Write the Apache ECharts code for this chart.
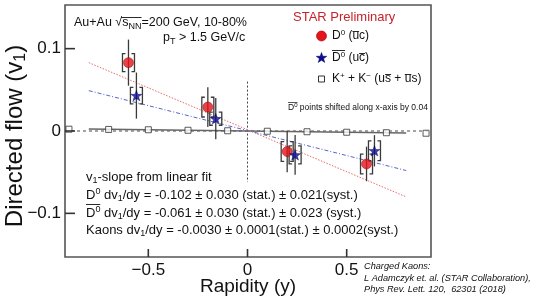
<!DOCTYPE html>
<html><head><meta charset="utf-8">
<script src="https://cdn.jsdelivr.net/npm/echarts@6/dist/echarts.min.js"></script>
<style>html,body{margin:0;padding:0;background:#fff}#c{width:537px;height:303px}</style>
</head><body><div id="c"></div>
<script>
// ---- data ----
const d0X = [-0.6, -0.2, 0.2, 0.6];
const d0Y = [0.083, 0.029, -0.025, -0.040];
const d0Stat = [0.028, 0.024, 0.025, 0.021];
const d0Syst = [0.011, 0.012, 0.012, 0.012];
const d0barX = [-0.56, -0.16, 0.24, 0.64];
const d0barY = [0.043, 0.015, -0.029, -0.024];
const d0barStat = [0.028, 0.025, 0.024, 0.019];
const d0barSyst = [0.010, 0.008, 0.011, 0.012];
const kaonX = [-0.9, -0.7, -0.5, -0.3, -0.1, 0.1, 0.3, 0.5, 0.7, 0.9];
const kaonY = [0.0022, 0.0019, 0.0015, 0.0009, 0.0003, -0.0003, -0.0009, -0.0015, -0.0021, -0.0027];
const d0FitX = [-0.8, 0.8];
const d0FitY = [0.083, -0.080];
const d0barFitX = [-0.8, 0.8];
const d0barFitY = [0.049, -0.048];
const kaonFitX = [-0.8, 0.8];
const kaonFitY = [0.0024, -0.0024];
const zeroLineX = [-0.92, 0.92];
const zeroLineY = [0, 0];
const midLineX = [0, 0];
const midLineY = [0.06, -0.062];
const xTicks = [-0.5, 0, 0.5];
const yTicks = [-0.1, 0, 0.1];
const xRange = [-0.92, 0.925];
const yRange = [-0.153, 0.153];

const FONT = '"Liberation Sans", Arial, sans-serif';
const zip = (a, b) => a.map((v, i) => [v, b[i]]);
const fmt = v => (v < 0 ? '\u2212' : '') + String(Math.abs(v));

function errRender(stat, syst) {
  return function (params, api) {
    const i = params.dataIndex;
    const x = api.value(0), y = api.value(1);
    const p = api.coord([x, y]);
    const t = api.coord([x, y + stat[i]]), b = api.coord([x, y - stat[i]]);
    const st = api.coord([x, y + syst[i]]), sb = api.coord([x, y - syst[i]]);
    const w = 6, h = 3;
    const ls = { stroke: '#3a3a3a', lineWidth: 1.3, fill: null };
    return {
      type: 'group', children: [
        { type: 'line', shape: { x1: p[0], y1: t[1], x2: p[0], y2: b[1] }, style: ls },
        { type: 'polyline', shape: { points: [[p[0] - w + h, st[1]], [p[0] - w, st[1]], [p[0] - w, sb[1]], [p[0] - w + h, sb[1]]] }, style: ls },
        { type: 'polyline', shape: { points: [[p[0] + w - h, st[1]], [p[0] + w, st[1]], [p[0] + w, sb[1]], [p[0] + w - h, sb[1]]] }, style: ls }
      ]
    };
  };
}

const starPath = 'path://M0,-10L2.35,-3.24L9.51,-3.09L3.8,1.24L5.88,8.09L0,4L-5.88,8.09L-3.8,1.24L-9.51,-3.09L-2.35,-3.24Z';
function starPoints(cx, cy, r) {
  const pts = [];
  for (let k = 0; k < 10; k++) {
    const a = -Math.PI / 2 + k * Math.PI / 5;
    const rr = k % 2 ? r * 0.4 : r;
    pts.push([cx + rr * Math.cos(a), cy + rr * Math.sin(a)]);
  }
  return pts;
}

const richBase = (fs) => ({
  n: { fontSize: fs, fontFamily: FONT, fill: '#111', lineHeight: fs + 3 },
  sup: { fontSize: Math.round(fs * 0.68), fontFamily: FONT, fill: '#111', verticalAlign: 'top', lineHeight: Math.round(fs * 0.68) },
  sub: { fontSize: Math.round(fs * 0.68), fontFamily: FONT, fill: '#111', verticalAlign: 'bottom', lineHeight: Math.round(fs * 0.68) }
});
function txt(x, y, text, fs) {
  return {
    type: 'text', x: x, y: y, z: 100,
    style: { text: text, rich: richBase(fs), fontSize: fs, fontFamily: FONT, fill: '#111', verticalAlign: 'middle', align: 'left' }
  };
}
function ln(x1, y1, x2, y2, w, color) {
  return { type: 'line', z: 100, shape: { x1, y1, x2, y2 }, style: { stroke: color || '#111', lineWidth: w || 0.9 } };
}

const graphics = [
  // header
  txt(74, 23, '{n|Au+Au \u221As}{sub|NN}{n|=200 GeV, 10-80%}', 12.5),
  ln(121, 17.5, 141.5, 17.5, 0.9),
  txt(163, 38, '{n|p}{sub|T}{n| > 1.5 GeV/c}', 12.5),
  { type: 'text', x: 293, y: 17, z: 100, style: { text: 'STAR Preliminary', fontSize: 13, fontFamily: FONT, fill: '#c8232c', verticalAlign: 'middle' } },
  // legend
  { type: 'circle', z: 100, shape: { cx: 321.5, cy: 36, r: 5 }, style: { fill: '#e5131b', stroke: '#9a0000', lineWidth: 0.6 } },
  txt(332, 36, '{n|D}{sup|0}{n| (uc)}', 12),
  ln(352.5, 31.5, 359.1, 31.5, 0.9),
  { type: 'polygon', z: 100, shape: { points: starPoints(321.5, 58, 5.5) }, style: { fill: '#0a0a9a', stroke: '#000050', lineWidth: 0.5 } },
  txt(332, 58, '{n|D}{sup|0}{n| (uc)}', 12),
  ln(332, 50.5, 345.1, 50.5, 0.9),
  ln(359.1, 53.5, 365.1, 53.5, 0.9),
  { type: 'rect', z: 100, shape: { x: 318.5, y: 76, width: 6, height: 6 }, style: { fill: '#fff', stroke: '#333', lineWidth: 1 } },
  txt(332, 79, '{n|K}{sup|+}{n| + K}{sup|\u2212}{n| (us + us)}', 12),
  ln(385.1, 74.5, 391.1, 74.5, 0.9),
  ln(404.8, 74.5, 411.4, 74.5, 0.9),
  txt(288, 108, '{n|D}{sup|0}{n| points shifted along x-axis by 0.04}', 8.5),
  ln(288, 102.5, 297.5, 102.5, 0.7),
  // fit results
  txt(86, 177, '{n|v}{sub|1}{n|-slope from linear fit}', 13),
  txt(86, 195, '{n|D}{sup|0}{n| dv}{sub|1}{n|/dy = -0.102 \u00B1 0.030 (stat.) \u00B1 0.021(syst.)}', 13),
  txt(86, 213, '{n|D}{sup|0}{n| dv}{sub|1}{n|/dy = -0.061 \u00B1 0.030 (stat.) \u00B1 0.023 (syst.)}', 13),
  ln(86, 204.5, 100.2, 204.5, 0.9),
  txt(86, 230.5, '{n|Kaons dv}{sub|1}{n|/dy = -0.0030 \u00B1 0.0001(stat.) \u00B1 0.0002(syst.)}', 13),
  // axis titles
  { type: 'text', x: 248, y: 287, z: 100, style: { text: 'Rapidity (y)', fontSize: 19, fontFamily: FONT, fill: '#111', align: 'center', verticalAlign: 'middle' } },
  { type: 'text', x: 15, y: 136, z: 100, rotation: Math.PI / 2, style: { text: '{n|Directed flow (v}{sub|1}{n|)}', rich: richBase(24), fontSize: 24, fontFamily: FONT, fill: '#111', align: 'center', verticalAlign: 'middle' } },
  // citation
  { type: 'text', x: 364, y: 261, z: 100, style: { text: 'Charged Kaons:\nL Adamczyk et. al. (STAR Collaboration),\nPhys Rev. Lett. 120,  62301 (2018)', fontSize: 9.2, fontStyle: 'italic', fontFamily: FONT, fill: '#111', lineHeight: 11.3, verticalAlign: 'top' } }
];

const chart = echarts.init(document.getElementById('c'), null, { renderer: 'canvas' });
chart.setOption({
  animation: false,
  backgroundColor: '#fff',
  grid: { left: 65, top: 5, right: 106, bottom: 46, show: true, borderColor: '#555', borderWidth: 1.6, backgroundColor: 'transparent' },
  xAxis: {
    type: 'value', min: xRange[0], max: xRange[1],
    axisLine: { show: false, onZero: false }, splitLine: { show: false }, axisTick: { show: false },
    axisLabel: { customValues: xTicks, formatter: fmt, fontSize: 17, fontFamily: FONT, color: '#111', margin: 5 }
  },
  yAxis: {
    type: 'value', min: yRange[0], max: yRange[1],
    axisLine: { show: false, onZero: false }, splitLine: { show: false }, axisTick: { show: false },
    axisLabel: { customValues: yTicks, formatter: fmt, fontSize: 17, fontFamily: FONT, color: '#111', margin: 4 }
  },
  series: [
    { type: 'line', data: zip(zeroLineX, zeroLineY), symbol: 'none', lineStyle: { color: '#333', width: 0.9, type: [3, 3] }, z: 1 },
    { type: 'line', data: zip(midLineX, midLineY), symbol: 'none', lineStyle: { color: '#444', width: 1, type: [2, 2] }, z: 1 },
    { type: 'line', data: zip(kaonFitX, kaonFitY), symbol: 'none', lineStyle: { color: '#666', width: 1.3 }, z: 2 },
    { type: 'line', data: zip(d0FitX, d0FitY), symbol: 'none', lineStyle: { color: '#ee6a6a', width: 1, type: [1.5, 1.5] }, z: 2 },
    { type: 'line', data: zip(d0barFitX, d0barFitY), symbol: 'none', lineStyle: { color: '#5566cc', width: 1, type: [4, 2, 1, 2] }, z: 2 },
    { type: 'scatter', data: zip(kaonX, kaonY), symbol: 'rect', symbolSize: 6, itemStyle: { color: '#fff', borderColor: '#333', borderWidth: 1 }, z: 3 },
    { type: 'custom', data: zip(d0X, d0Y), renderItem: errRender(d0Stat, d0Syst), z: 4 },
    { type: 'custom', data: zip(d0barX, d0barY), renderItem: errRender(d0barStat, d0barSyst), z: 4 },
    { type: 'scatter', data: zip(d0X, d0Y), symbol: 'circle', symbolSize: 10, itemStyle: { color: '#e5131b', borderColor: '#9a0000', borderWidth: 0.6 }, z: 5 },
    { type: 'scatter', data: zip(d0barX, d0barY), symbol: starPath, symbolKeepAspect: true, symbolSize: 11, itemStyle: { color: '#0a0a9a', borderColor: '#000050', borderWidth: 0.5 }, z: 6 }
  ],
  graphic: graphics
});

// axis ticks placed through the chart's own scales (inward, as in the reference)
const tickEls = [];
xTicks.forEach(v => {
  const p = chart.convertToPixel({ gridIndex: 0 }, [v, yRange[0]]);
  tickEls.push(ln(p[0], p[1], p[0], p[1] - 8, 1.6, '#333'));
});
yTicks.forEach(v => {
  const p = chart.convertToPixel({ gridIndex: 0 }, [xRange[0], v]);
  tickEls.push(ln(p[0], p[1], p[0] + 10, p[1], 1.6, '#333'));
});
chart.setOption({ graphic: graphics.concat(tickEls) });
</script></body></html>
